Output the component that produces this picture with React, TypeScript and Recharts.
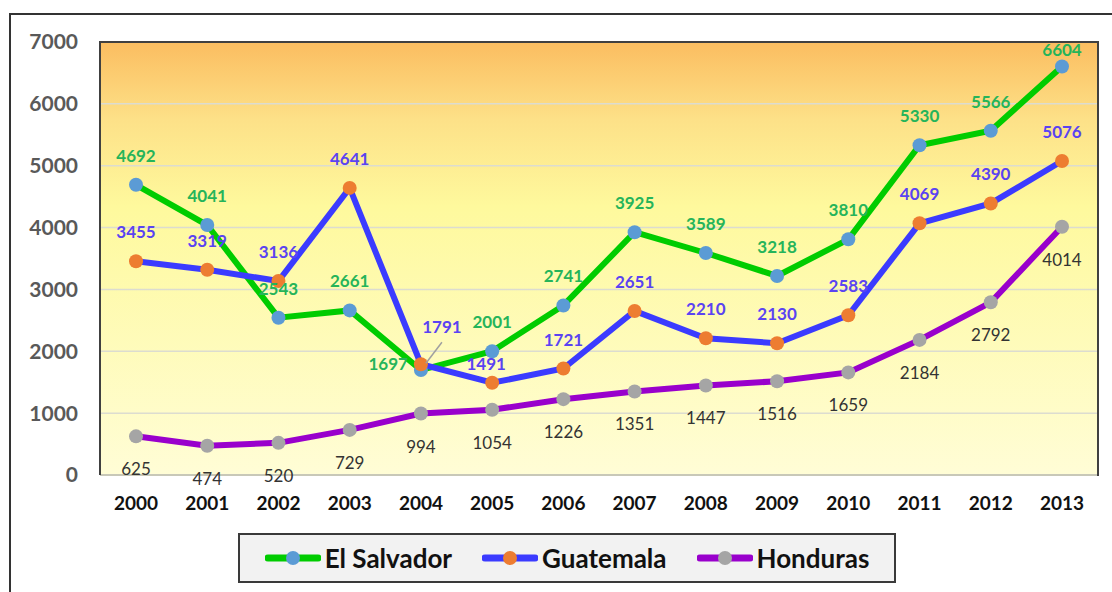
import React from 'react';
import {
  LineChart,
  Line,
  XAxis,
  YAxis,
  CartesianGrid,
  Legend
} from 'recharts';

const years = ['2000', '2001', '2002', '2003', '2004', '2005', '2006', '2007', '2008', '2009', '2010', '2011', '2012', '2013'];
const elSalvador = [4692, 4041, 2543, 2661, 1697, 2001, 2741, 3925, 3589, 3218, 3810, 5330, 5566, 6604];
const guatemala = [3455, 3319, 3136, 4641, 1791, 1491, 1721, 2651, 2210, 2130, 2583, 4069, 4390, 5076];
const honduras = [625, 474, 520, 729, 994, 1054, 1226, 1351, 1447, 1516, 1659, 2184, 2792, 4014];
const yTicks = [0, 1000, 2000, 3000, 4000, 5000, 6000, 7000];

const data = years.map((year, i) => ({
  year,
  elSalvador: elSalvador[i],
  guatemala: guatemala[i],
  honduras: honduras[i],
}));

const FONT = 'Lato, sans-serif';

const seriesInfo = [
  { name: 'El Salvador', line: '#00cc00', dot: '#5b9bd5' },
  { name: 'Guatemala', line: '#3b3bff', dot: '#ed7d31' },
  { name: 'Honduras', line: '#9900cc', dot: '#a5a5a5' },
];

const SalvadorLabel = (props: any) => {
  const { x, y, value, index } = props;
  if (index === 4) {
    // 2004 label sits to the left of the point
    return (
      <text x={x - 13} y={y} textAnchor="end" fontFamily={FONT} fontWeight={700} fontSize={17} fill="#25b45a">
        {value}
      </text>
    );
  }
  // last label is squeezed under the top of the plot
  const dy = index === 13 ? -10 : -23;
  return (
    <text x={x} y={y + dy} textAnchor="middle" fontFamily={FONT} fontWeight={700} fontSize={17} fill="#25b45a">
      {value}
    </text>
  );
};

const GuatemalaLabel = (props: any) => {
  const { x, y, value, index } = props;
  if (index === 4) {
    return (
      <g>
        <line x1={x + 5} y1={y - 1} x2={x + 21} y2={y - 22} stroke="#a0a0a0" strokeWidth={1.5} />
        <text x={x + 21} y={y - 31} textAnchor="middle" fontFamily={FONT} fontWeight={700} fontSize={17} fill="#5a43f2">
          {value}
        </text>
      </g>
    );
  }
  const dy = index === 5 ? -13 : -23;
  const dx = index === 5 ? -6 : 0;
  return (
    <text x={x + dx} y={y + dy} textAnchor="middle" fontFamily={FONT} fontWeight={700} fontSize={17} fill="#5a43f2">
      {value}
    </text>
  );
};

const HondurasLabel = (props: any) => {
  const { x, y, value } = props;
  return (
    <text x={x} y={y + 39} textAnchor="middle" fontFamily={FONT} fontSize={17} fill="#333333">
      {value}
    </text>
  );
};

const renderLegend = () => (
  <div
    style={{
      width: 654,
      height: 46,
      border: '2px solid #3a3a3a',
      background: '#f2f2f2',
      display: 'flex',
      alignItems: 'center',
      justifyContent: 'center',
      gap: 30,
      fontFamily: FONT,
      fontWeight: 700,
      fontSize: 26,
      color: '#111',
    }}
  >
    {seriesInfo.map((s) => (
      <div key={s.name} style={{ display: 'flex', alignItems: 'center' }}>
        <svg width={56} height={20} style={{ marginRight: 4 }}>
          <line x1={3} y1={10} x2={53} y2={10} stroke={s.line} strokeWidth={7} strokeLinecap="round" />
          <circle cx={28} cy={10} r={7} fill={s.dot} />
        </svg>
        <span>{s.name}</span>
      </div>
    ))}
  </div>
);

export default function App() {
  return (
    <div style={{ position: 'absolute', left: 0, top: 0, width: 1112, height: 592, background: '#fff', overflow: 'hidden' }}>
      <div
        style={{
          position: 'absolute',
          left: 9,
          top: 13,
          width: 1110,
          height: 600,
          border: '2px solid #333',
          boxSizing: 'border-box',
        }}
      />
      <div style={{ position: 'absolute', left: 0, top: 0 }}>
        <LineChart width={1112} height={592} data={data} margin={{ top: 42, right: 14, left: 10, bottom: 27 }}>
          <defs>
            <linearGradient id="plotBg" x1="0" y1="0" x2="0" y2="1">
              <stop offset="0" stopColor="#fbbd60" />
              <stop offset="0.18" stopColor="#fde188" />
              <stop offset="0.38" stopColor="#fef99d" />
              <stop offset="1" stopColor="#fffdd6" />
            </linearGradient>
          </defs>
          <CartesianGrid vertical={false} stroke="#dcdcd0" strokeWidth={1.5} fill="url(#plotBg)" fillOpacity={1} />
          <XAxis
            dataKey="year"
            padding={{ left: 36, right: 36 }}
            axisLine={{ stroke: '#c8c8b8', strokeWidth: 2 }}
            tickLine={false}
            tickSize={0}
            tickMargin={22}
            height={40}
            tick={{ fontFamily: FONT, fontWeight: 700, fontSize: 19, fill: '#111' }}
          />
          <YAxis
            domain={[0, 7000]}
            ticks={yTicks}
            width={90}
            axisLine={{ stroke: '#404040', strokeWidth: 2 }}
            tickLine={false}
            tickSize={0}
            tickMargin={22}
            tick={{ fontFamily: FONT, fontWeight: 700, fontSize: 21, fill: '#595959' }}
          />
          <Line
            dataKey="honduras"
            name="Honduras"
            stroke="#9900cc"
            strokeWidth={6}
            dot={{ r: 7, fill: '#a5a5a5', stroke: 'none' }}
            activeDot={false}
            label={HondurasLabel}
            isAnimationActive={false}
          />
          <Line
            dataKey="elSalvador"
            name="El Salvador"
            stroke="#00cc00"
            strokeWidth={6}
            dot={{ r: 7, fill: '#5b9bd5', stroke: 'none' }}
            activeDot={false}
            label={SalvadorLabel}
            isAnimationActive={false}
          />
          <Line
            dataKey="guatemala"
            name="Guatemala"
            stroke="#3b3bff"
            strokeWidth={6}
            dot={{ r: 7, fill: '#ed7d31', stroke: 'none' }}
            activeDot={false}
            label={GuatemalaLabel}
            isAnimationActive={false}
          />
          <Legend
            content={renderLegend}
            wrapperStyle={{ position: 'absolute', left: 238, top: 533, width: 658, height: 50, bottom: 'auto' }}
          />
        </LineChart>
      </div>
      <div
        style={{
          position: 'absolute',
          left: 99,
          top: 41,
          width: 1000,
          height: 435,
          borderTop: '2px solid #404040',
          borderRight: '2px solid #404040',
          boxSizing: 'border-box',
          pointerEvents: 'none',
        }}
      />
    </div>
  );
}
